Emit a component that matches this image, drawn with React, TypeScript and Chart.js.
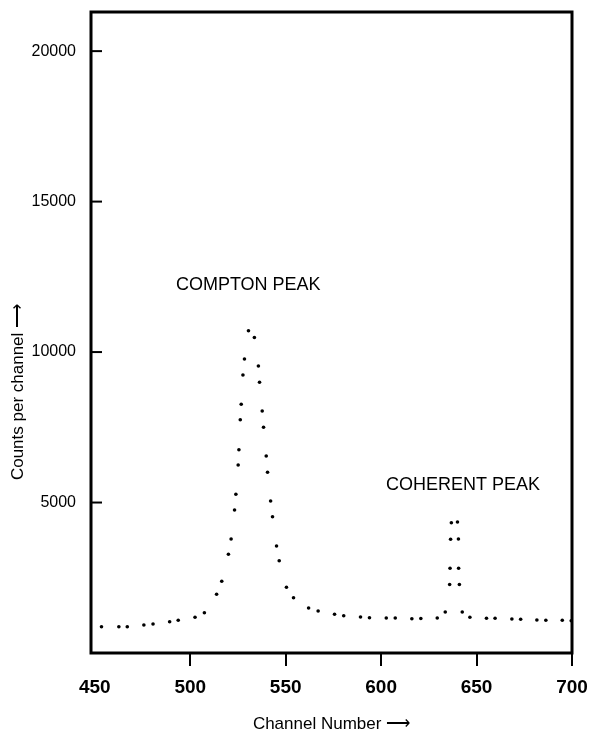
import React, { useEffect, useRef } from "react";
import { Chart, registerables } from "chart.js";

Chart.register(...registerables);

// Channel numbers of each printed dot
const channels = [
  453.5, 462.6, 467.0, 475.7, 480.5, 489.2, 493.7, 502.5, 507.4, 513.8,
  516.5, 520.0, 521.4, 523.2, 523.9, 525.1, 525.5, 526.2, 526.7, 527.6,
  528.4, 530.5, 533.6, 535.7, 536.3, 537.7, 538.4, 539.8, 540.5, 542.1,
  543.1, 545.2, 546.6, 550.4, 554.1, 562.0, 567.0, 575.6, 580.4, 589.2,
  593.9, 602.7, 607.4, 616.1, 620.8, 629.4, 633.6, 635.9, 636.1, 636.4,
  636.8, 640.0, 640.5, 640.6, 641.0, 642.5, 646.5, 655.2, 659.7, 668.5,
  673.1, 681.6, 686.3, 694.9, 699.6,
];

// Counts per channel of each dot
const counts = [
  874, 874, 874, 930, 964, 1040, 1087, 1186, 1339, 1954,
  2383, 3280, 3788, 4752, 5274, 6247, 6756, 7753, 8264, 9238,
  9770, 10710, 10484, 9537, 8999, 8042, 7500, 6546, 6005, 5051,
  4529, 3556, 3067, 2183, 1838, 1495, 1396, 1286, 1240, 1196,
  1173, 1163, 1163, 1140, 1146, 1163, 1362, 2276, 2815, 3778,
  4330, 4353, 3788, 2815, 2276, 1362, 1190, 1153, 1153, 1130,
  1120, 1097, 1087, 1087, 1073,
];

const xTickValues = [450, 500, 550, 600, 650, 700];
const yTickValues = [5000, 10000, 15000, 20000];
const xTitle = "Channel Number \u27F6";
const yTitle = "Counts per channel \u27F6";
const peakLabels = ["COMPTON PEAK", "COHERENT PEAK"];
const peakLabelChannels = [530.4, 642.9];
const peakLabelCounts = [12230, 5580];

const FONT = "'Liberation Sans', Arial, Helvetica, sans-serif";

export default function App() {
  const ref = useRef<HTMLCanvasElement>(null);

  useEffect(() => {
    document.body.style.margin = "0";
    const canvas = ref.current!;

    const framePlugin = {
      id: "frameAndNotes",
      afterDraw(chart: any) {
        const { ctx, chartArea: a, scales } = chart;
        ctx.save();
        ctx.strokeStyle = "#000";
        ctx.lineWidth = 3;
        ctx.strokeRect(a.left, a.top, a.right - a.left, a.bottom - a.top);
        ctx.lineWidth = 2;
        yTickValues.forEach((v) => {
          const y = scales.y.getPixelForValue(v);
          ctx.beginPath();
          ctx.moveTo(a.left, y);
          ctx.lineTo(a.left + 11, y);
          ctx.stroke();
        });
        ctx.fillStyle = "#000";
        ctx.textAlign = "center";
        ctx.textBaseline = "middle";
        ctx.font = `18px ${FONT}`;
        peakLabels.forEach((t, i) => {
          ctx.fillText(
            t,
            scales.x.getPixelForValue(peakLabelChannels[i]),
            scales.y.getPixelForValue(peakLabelCounts[i])
          );
        });
        ctx.font = `17px ${FONT}`;
        ctx.translate(18, 392);
        ctx.rotate(-Math.PI / 2);
        ctx.fillText(yTitle, 0, 0);
        ctx.restore();
      },
    };

    const chart = new Chart(canvas, {
      type: "scatter",
      data: {
        datasets: [
          {
            data: channels.map((c, i) => ({ x: c, y: counts[i] })),
            pointRadius: 1.8,
            pointBackgroundColor: "#000",
            pointBorderWidth: 0,
            showLine: false,
          },
        ],
      },
      options: {
        responsive: false,
        animation: false,
        layout: { padding: { top: 12, right: 20, left: 0, bottom: 0 } },
        plugins: { legend: { display: false }, tooltip: { enabled: false } },
        scales: {
          x: {
            type: "linear",
            min: 448,
            max: 700,
            afterBuildTicks: (s: any) => {
              s.ticks = xTickValues.map((v) => ({ value: v }));
            },
            afterFit: (s: any) => {
              s.height = 83;
              s.paddingLeft = 0;
              s.paddingRight = 0;
            },
            border: { display: false },
            grid: {
              drawOnChartArea: false,
              drawTicks: true,
              tickLength: 13,
              lineWidth: 2,
              color: (c: any) =>
                c.tick && c.tick.value === 450 ? "rgba(0,0,0,0)" : "#000",
            },
            ticks: {
              color: "#000",
              padding: 10,
              maxRotation: 0,
              font: { family: FONT, size: 19, weight: "bold" },
              callback: (v: any) => String(v),
            },
            title: {
              display: true,
              text: xTitle,
              color: "#000",
              font: { family: FONT, size: 17 },
              padding: { top: 0, bottom: 1 },
            },
          },
          y: {
            type: "linear",
            min: 0,
            max: 21300,
            afterBuildTicks: (s: any) => {
              s.ticks = yTickValues.map((v) => ({ value: v }));
            },
            afterFit: (s: any) => {
              s.width = 91;
              s.paddingTop = 0;
              s.paddingBottom = 0;
            },
            border: { display: false },
            grid: { display: false, drawTicks: false },
            ticks: {
              color: "#000",
              padding: 15,
              font: { family: FONT, size: 16 },
              callback: (v: any) => String(v),
            },
          },
        },
      },
      plugins: [framePlugin],
    } as any);

    return () => chart.destroy();
  }, []);

  return (
    <canvas
      ref={ref}
      width={592}
      height={736}
      style={{ display: "block", width: 592, height: 736 }}
    />
  );
}
